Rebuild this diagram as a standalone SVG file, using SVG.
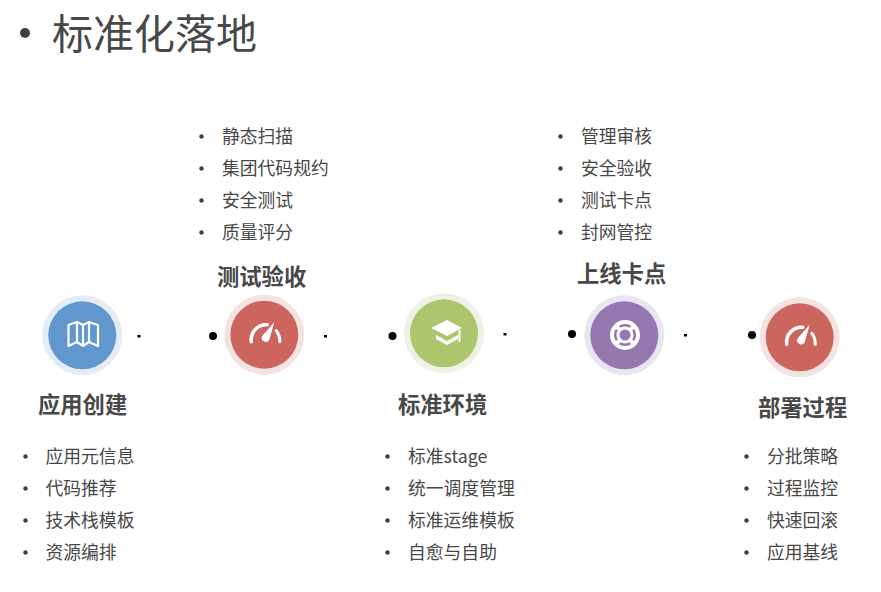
<svg xmlns="http://www.w3.org/2000/svg" width="881" height="592" viewBox="0 0 881 592">
<style>
text{font-family:"Noto Sans CJK SC","Noto Sans",sans-serif;fill:#484848}
.t{font-size:41px}
.h{font-size:22.300px;font-weight:700}
.i{font-size:17.800px}
.b{fill:#404040}
.g{fill:none;stroke:#fff;stroke-width:2.200;stroke-linejoin:round}
.w{fill:#fff}
</style>
<defs>
<g id="gauge">
<path d="M-13 7A15 15 0 0 1 3 -10" fill="none" stroke="#fff" stroke-width="3.500" stroke-linecap="round"/>
<path d="M12 -4A16 16 0 0 1 15.500 7" fill="none" stroke="#fff" stroke-width="3" stroke-linecap="round"/>
<path d="M10 -12.500L5 5A4 4 0 1 1 -2 1Z" class="w"/>
</g>
</defs>
<g id="title">
<circle cx="25" cy="33" r="5" class="b"/>
<text x="52" y="49" class="t">标准化落地</text>
</g>
<g id="connectors">
<rect x="137.500" y="335" width="3" height="2.500" fill="#000"/><circle cx="213" cy="336" r="4" fill="#000"/>
<rect x="324" y="335" width="3" height="2.500" fill="#000"/><circle cx="392.500" cy="336" r="4" fill="#000"/>
<rect x="503.500" y="333" width="3" height="2.500" fill="#000"/><circle cx="572" cy="334" r="4" fill="#000"/>
<rect x="684" y="334" width="3" height="2.500" fill="#000"/><circle cx="752" cy="335" r="4" fill="#000"/>
</g>
<g id="node-app">
<circle cx="82.300" cy="335.300" r="40" fill="#e4ecf6"/><circle cx="82.300" cy="335.300" r="34" fill="#6097cc"/>
<path class="g" d="M68.500 325V346L77 342L83 346L89 342L98 346V325L89 322L83 325L77 322ZM77 322V342M83 325V346M89 322V342"/>
<text x="38" y="413" class="h">应用创建</text>
<g class="i">
<circle cx="25.500" cy="456.500" r="2.200" class="b"/><text x="45.500" y="463">应用元信息</text>
<circle cx="25.500" cy="488.500" r="2.200" class="b"/><text x="45.500" y="495">代码推荐</text>
<circle cx="25.500" cy="520.500" r="2.200" class="b"/><text x="45.500" y="527">技术栈模板</text>
<circle cx="25.500" cy="552.500" r="2.200" class="b"/><text x="45.500" y="559">资源编排</text>
</g>
</g>
<g id="node-test">
<circle cx="264.300" cy="334.700" r="40" fill="#f5e3e3"/><circle cx="264.300" cy="334.700" r="34" fill="#cc655e"/>
<use href="#gauge" x="264.300" y="334.700"/>
<text x="217" y="285" class="h">测试验收</text>
<g class="i">
<circle cx="201.500" cy="136.500" r="2.200" class="b"/><text x="222" y="143">静态扫描</text>
<circle cx="201.500" cy="168.500" r="2.200" class="b"/><text x="222" y="175">集团代码规约</text>
<circle cx="201.500" cy="200.500" r="2.200" class="b"/><text x="222" y="207">安全测试</text>
<circle cx="201.500" cy="232.500" r="2.200" class="b"/><text x="222" y="239">质量评分</text>
</g>
</g>
<g id="node-env">
<circle cx="444" cy="333.300" r="40" fill="#eef2e4"/><circle cx="444" cy="333.300" r="34" fill="#adc56d"/>
<path class="w" d="M447 320L431 328L447 336L462 328Z"/>
<path class="w" d="M436 335L447 341L458 335V339L447 345L436 339Z"/>
<rect x="458.500" y="330" width="2" height="12" class="w"/>
<text x="398" y="413" class="h">标准环境</text>
<g class="i">
<circle cx="387.500" cy="456.500" r="2.200" class="b"/><text x="408" y="463">标准stage</text>
<circle cx="387.500" cy="488.500" r="2.200" class="b"/><text x="408" y="495">统一调度管理</text>
<circle cx="387.500" cy="520.500" r="2.200" class="b"/><text x="408" y="527">标准运维模板</text>
<circle cx="387.500" cy="552.500" r="2.200" class="b"/><text x="408" y="559">自愈与自助</text>
</g>
</g>
<g id="node-release">
<circle cx="624.300" cy="335.300" r="40" fill="#e9e5f1"/><circle cx="624.300" cy="335.300" r="34" fill="#9479b1"/>
<circle cx="625" cy="335" r="13" fill="none" stroke="#fff" stroke-width="4"/>
<circle cx="625" cy="335" r="7" fill="none" stroke="#fff" stroke-width="3"/>
<path d="M617 327L620 330M633 327L630 330M617 343L620 340M633 343L630 340" stroke="#fff" stroke-width="4"/>
<text x="577" y="282" class="h">上线卡点</text>
<g class="i">
<circle cx="560.500" cy="136.500" r="2.200" class="b"/><text x="581" y="143">管理审核</text>
<circle cx="560.500" cy="168.500" r="2.200" class="b"/><text x="581" y="175">安全验收</text>
<circle cx="560.500" cy="200.500" r="2.200" class="b"/><text x="581" y="207">测试卡点</text>
<circle cx="560.500" cy="232.500" r="2.200" class="b"/><text x="581" y="239">封网管控</text>
</g>
</g>
<g id="node-deploy">
<circle cx="799.700" cy="337.300" r="40" fill="#f5e3e3"/><circle cx="799.700" cy="337.300" r="34" fill="#cc655e"/>
<use href="#gauge" x="799.700" y="337.300"/>
<text x="758" y="416" class="h">部署过程</text>
<g class="i">
<circle cx="746.500" cy="456.500" r="2.200" class="b"/><text x="767" y="463">分批策略</text>
<circle cx="746.500" cy="488.500" r="2.200" class="b"/><text x="767" y="495">过程监控</text>
<circle cx="746.500" cy="520.500" r="2.200" class="b"/><text x="767" y="527">快速回滚</text>
<circle cx="746.500" cy="552.500" r="2.200" class="b"/><text x="767" y="559">应用基线</text>
</g>
</g>
</svg>
